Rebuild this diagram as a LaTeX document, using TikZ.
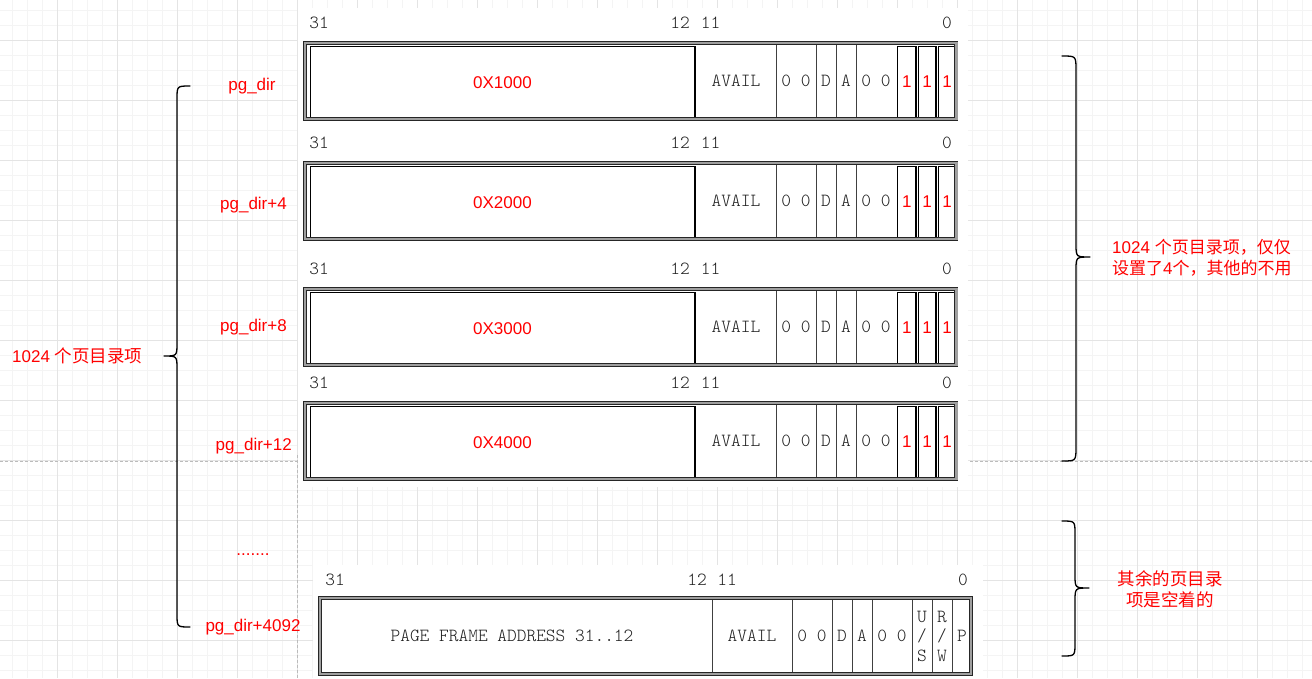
\documentclass[tikz,border=0pt]{standalone}
\usepackage{fontspec}
\setmainfont{Liberation Sans}
\newfontfamily\cjk{Noto Sans CJK SC}
\newfontfamily\monof{lmmonolt10-regular.otf}
\definecolor{gridmaj}{HTML}{E4E4E4}
\definecolor{gridmin}{HTML}{F4F4F4}
\definecolor{lblred}{HTML}{FF0000}
\definecolor{dashgray}{HTML}{BBBBBB}
\tikzset{
  lbl/.style={text=lblred, font=\fontsize{17}{21}\selectfont, inner sep=0pt},
  cjklbl/.style={text=lblred, font=\cjk\fontsize{17.5}{21}\selectfont, inner sep=0pt},
  mono/.style={text=black!88, font=\monof\fontsize{18.5}{19.5}\selectfont, inner sep=0pt},
  frame/.style={draw=black!85, line width=0.7pt, double=gray!75, double distance=2.4pt},
  addrbox/.style={draw=black, line width=1.5pt},
  onebox/.style={draw=black, line width=1.5pt},
  sep/.style={draw=black!75, line width=0.7pt},
  brace/.style={draw=black, line width=1.3pt, line cap=round, line join=round},
  dashline/.style={draw=dashgray, line width=1pt, dash pattern=on 3pt off 2pt},
}
\newcommand\pdtab[3]{%
  \begin{scope}[shift={(0,#1)}]
    \node[mono] (#2b31) at (319,-18) {31};
    \node[mono] (#2b12) at (680,-18) {12};
    \node[mono] (#2b11) at (710.5,-18) {11};
    \node[mono] (#2b0) at (947,-18) {0};
    \draw[addrbox] (310.5,5.5) rectangle (695,76.3);
    \node[lbl] (#2addr) at (502.5,42) {#3};
    \draw[sep] (776.5,4) -- (776.5,76);
    \draw[sep] (816,4) -- (816,76);
    \draw[sep] (836,4) -- (836,76);
    \draw[sep] (856,4) -- (856,76);
    \node[mono] (#2avail) at (736,40) {AVAIL};
    \node[mono] (#2z1) at (796,40) {0 0};
    \node[mono] (#2d) at (826,40) {D};
    \node[mono] (#2a) at (846,40) {A};
    \node[mono] (#2z2) at (876,40) {0 0};
    \draw[onebox] (897.5,5.7) rectangle (916,76.3);
    \draw[onebox] (918.5,5.7) rectangle (936,76.3);
    \draw[onebox] (938.5,5.7) rectangle (956,76.3);
    \node[lbl] (#2u) at (906.8,41) {1};
    \node[lbl] (#2w) at (927.2,41) {1};
    \node[lbl] (#2p) at (947.2,41) {1};
    \draw[frame] (305,2) rectangle (956.3,78);
  \end{scope}}
\begin{document}
\begin{tikzpicture}[x=1pt,y=-1pt]
\useasboundingbox (0,0) rectangle (1312,678);
\fill[white] (0,0) rectangle (1312,678);
% grid
\foreach \x in {12,27,...,1312} \draw[gridmin, line width=1pt] (\x,0) -- (\x,678);
\foreach \y in {10,25,...,678} \draw[gridmin, line width=1pt] (0,\y) -- (1312,\y);
\foreach \x in {57,117,...,1312} \draw[gridmaj, line width=1pt] (\x,0) -- (\x,678);
\foreach \y in {40,100,...,678} \draw[gridmaj, line width=1pt] (0,\y) -- (1312,\y);
% dashed guide lines
\draw[dashline] (0,461) -- (1312,461);
\draw[dashline] (297.5,455) -- (297.5,678);
% image backgrounds
\fill[white] (298,8) rectangle (968,487);
\fill[white] (313,565) rectangle (983,678);
% four page directory entries
\pdtab{41}{ta}{0X1000}
\pdtab{161}{tb}{0X2000}
\pdtab{287}{tc}{0X3000}
\pdtab{401}{td}{0X4000}
% generic entry format
\begin{scope}[shift={(0,596)}]
  \node[mono] (teb31) at (335,-16) {31};
  \node[mono] (teb12) at (697,-16) {12};
  \node[mono] (teb11) at (727,-16) {11};
  \node[mono] (teb0) at (963,-16) {0};
  \foreach \s in {712,792,832,852,872,912,932,952} \draw[sep] (\s,4) -- (\s,76);
  \node[mono] (teaddr) at (512,40) {PAGE FRAME ADDRESS 31..12};
  \node[mono] (teavail) at (752,40) {AVAIL};
  \node[mono] (tez1) at (812,40) {0 0};
  \node[mono] (ted) at (842,40) {D};
  \node[mono] (tea) at (862,40) {A};
  \node[mono] (tez2) at (892,40) {0 0};
  \node[mono, align=center] (teus) at (922,40) {U\\/\\S};
  \node[mono, align=center] (terw) at (942,40) {R\\/\\W};
  \node[mono] (tep) at (962,40) {P};
  \draw[frame] (320,2) rectangle (971,78);
\end{scope}
% braces
\draw[brace] (190,86) .. controls (177,86) .. (177,99) -- (177,343)
  .. controls (177,356) .. (164,356) .. controls (177,356) .. (177,369)
  -- (177,614) .. controls (177,627) .. (190,627);
\draw[brace] (1062,56) .. controls (1076,56) .. (1076,70) -- (1076,244)
  .. controls (1076,257) .. (1090,257) .. controls (1076,257) .. (1076,270)
  -- (1076,447) .. controls (1076,461) .. (1062,461);
\draw[brace] (1062,521) .. controls (1075,521) .. (1075,534) -- (1075,575)
  .. controls (1075,588) .. (1089,588) .. controls (1075,588) .. (1075,601)
  -- (1075,643) .. controls (1075,656) .. (1062,656);
% labels
\node[lbl] (pd0) at (252,86) {pg\_dir};
\node[lbl, anchor=east] (pd4) at (287,205) {pg\_dir+4};
\node[lbl, anchor=east] (pd8) at (287,327) {pg\_dir+8};
\node[lbl, anchor=east] (pd12) at (292,446) {pg\_dir+12};
\node[lbl, anchor=base] (pddots) at (253,555) {.......};
\node[lbl] (pd4092) at (253,627) {pg\_dir+4092};
\node[lbl, anchor=west] (leftnote) at (12,356) {1024 {\cjk\fontsize{17.5}{21}\selectfont 个页目录项}};
\node[lbl, anchor=west, align=left] (rightnote) at (1112,258)
  {1024 {\cjk 个页目录项，仅仅}\\{\cjk 设置了}4{\cjk 个，其他的不用}};
\node[cjklbl, align=center] (restnote) at (1170,589) {其余的页目录\\项是空着的};
\end{tikzpicture}
\end{document}
